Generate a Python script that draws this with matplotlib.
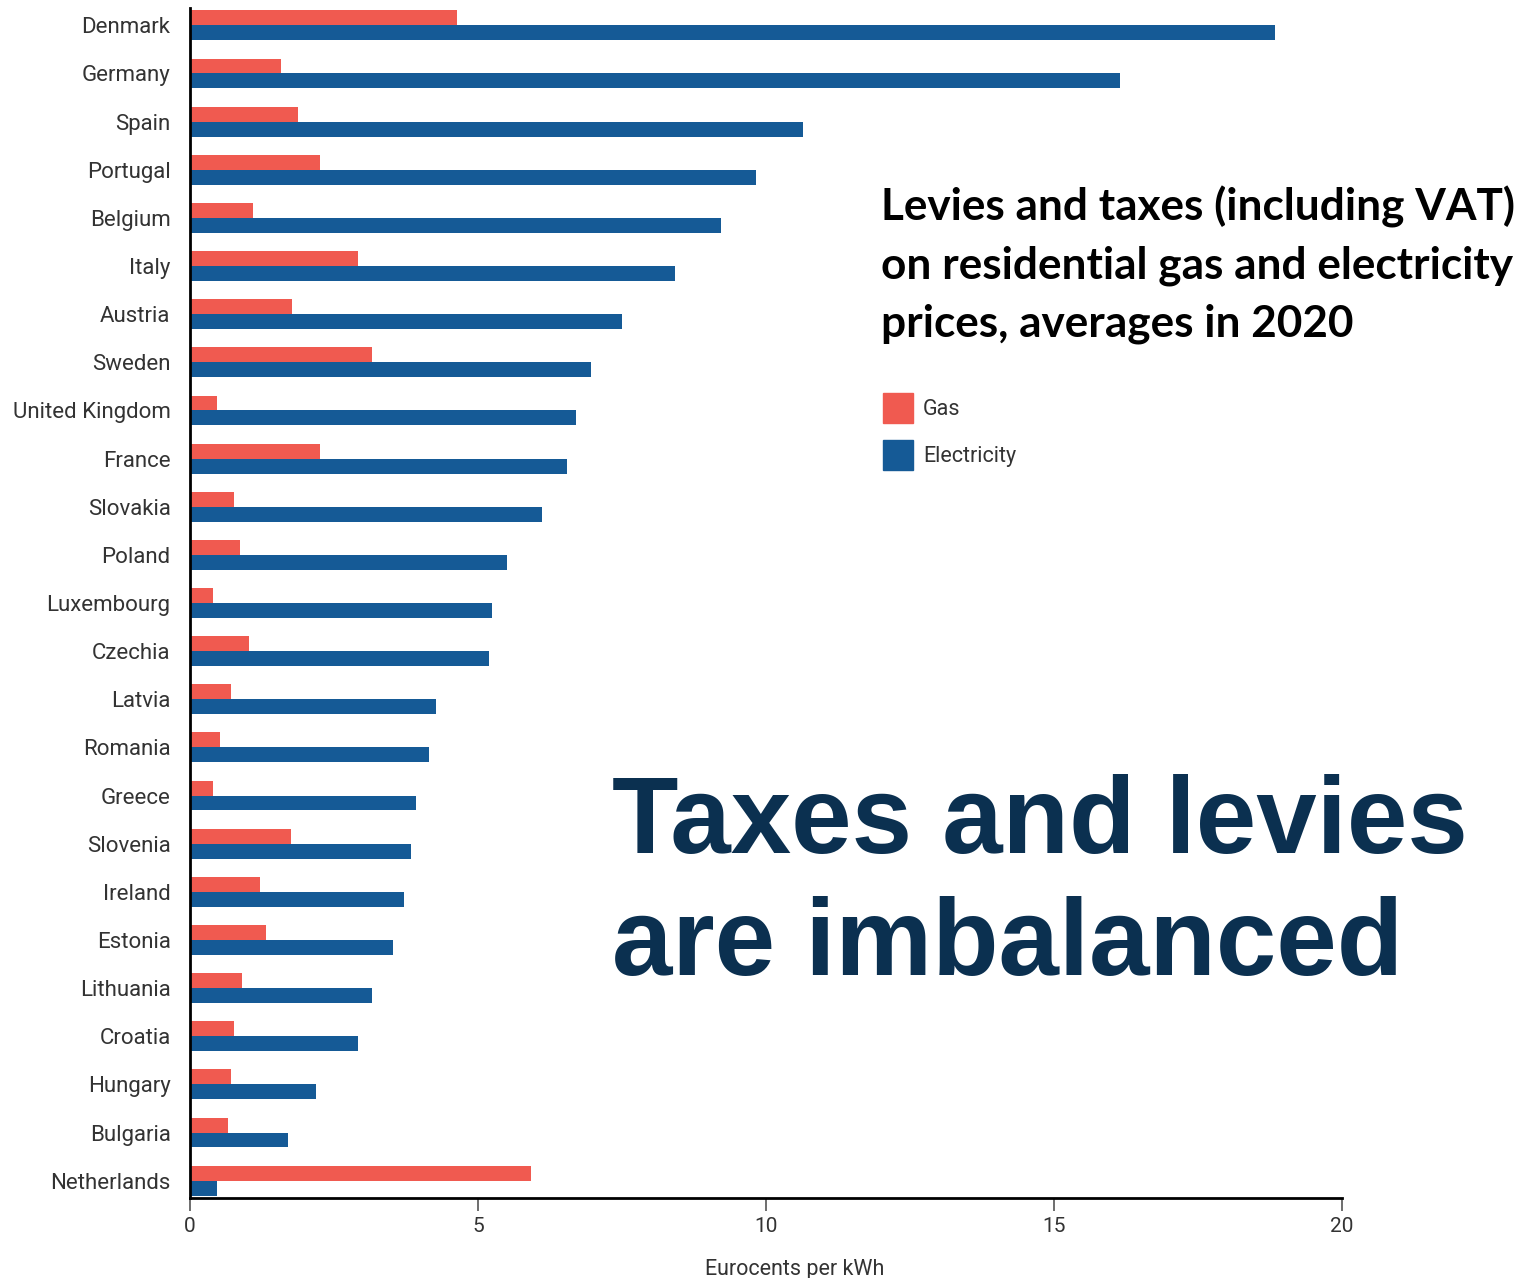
import numpy as np
import matplotlib
matplotlib.use("Agg")
import matplotlib.pyplot as plt
from matplotlib.patches import Patch

countries = [
    "Denmark", "Germany", "Spain", "Portugal", "Belgium", "Italy", "Austria",
    "Sweden", "United Kingdom", "France", "Slovakia", "Poland", "Luxembourg",
    "Czechia", "Latvia", "Romania", "Greece", "Slovenia", "Ireland", "Estonia",
    "Lithuania", "Croatia", "Hungary", "Bulgaria", "Netherlands",
]
gas = [
    4.64, 1.58, 1.88, 2.26, 1.09, 2.92, 1.77,
    3.16, 0.47, 2.26, 0.76, 0.87, 0.40,
    1.02, 0.71, 0.52, 0.40, 1.75, 1.22, 1.32,
    0.90, 0.76, 0.71, 0.66, 5.92,
]
electricity = [
    18.84, 16.15, 10.64, 9.83, 9.22, 8.42, 7.50,
    6.96, 6.70, 6.55, 6.11, 5.50, 5.24,
    5.19, 4.27, 4.15, 3.92, 3.84, 3.72, 3.52,
    3.16, 2.92, 2.19, 1.70, 0.47,
]
xticks = [0, 5, 10, 15, 20]

GAS_COLOR = "#F05A50"
ELEC_COLOR = "#155A96"
NAVY = "#0B3050"
LABEL_COLOR = "#333333"

fig = plt.figure(figsize=(15.27, 12.78), dpi=100)
ax = fig.add_axes([190 / 1527, 1 - 1198 / 1278, 1152 / 1527, 1190 / 1278])

y = np.arange(len(countries))
h = 0.31
ax.barh(y - h / 2, gas, height=h, color=GAS_COLOR, label="Gas")
ax.barh(y + h / 2, electricity, height=h, color=ELEC_COLOR, label="Electricity")

ax.set_ylim(len(countries) - 1 + 0.36, -0.36)
ax.set_xlim(0, 20)
ax.set_yticks(y)
ax.set_yticklabels(countries, family="Roboto", fontsize=16, color=LABEL_COLOR)
ax.tick_params(axis="y", length=0, pad=14)
ax.set_xticks(xticks)
ax.set_xticklabels([str(t) for t in xticks], family="Roboto", fontsize=15,
                   color=LABEL_COLOR)
ax.tick_params(axis="x", length=9, width=1.2, color="#555555", pad=5)

for side in ["top", "right"]:
    ax.spines[side].set_visible(False)
for side in ["left", "bottom"]:
    ax.spines[side].set_linewidth(2)
    ax.spines[side].set_color("black")

ax.set_xlabel("Eurocents per kWh", family="Roboto", fontsize=15.5,
              color=LABEL_COLOR, va="top")
ax.xaxis.set_label_coords(0.525, -0.051)

# legend
handles = [Patch(color=GAS_COLOR, label="Gas"),
           Patch(color=ELEC_COLOR, label="Electricity")]
fig.legend(handles=handles, loc="upper left",
           bbox_to_anchor=(883 / 1527, 1 - 393 / 1278), frameon=False,
           prop={"family": "Roboto", "size": 15.5}, handlelength=1.4,
           handleheight=1.75, handletextpad=0.45, labelspacing=0.8,
           borderpad=0, borderaxespad=0, labelcolor=LABEL_COLOR)

# heading text
heading = [
    "Levies and taxes (including VAT)",
    "on residential gas and electricity",
    "prices, averages in 2020",
]
for i, line in enumerate(heading):
    fig.text(881 / 1527, 1 - (220 + 58 * i) / 1278, line, family="Lato",
             fontweight="bold", fontsize=31.8, color="black", va="baseline")

# big statement
fig.text(612 / 1527, 1 - 853 / 1278, "Taxes and levies",
         family="Liberation Sans", fontweight="bold", fontsize=78.2,
         color=NAVY, va="baseline")
fig.text(612 / 1527, 1 - 975 / 1278, "are imbalanced",
         family="Liberation Sans", fontweight="bold", fontsize=78.2,
         color=NAVY, va="baseline")

fig.savefig("out.png", dpi=100)
